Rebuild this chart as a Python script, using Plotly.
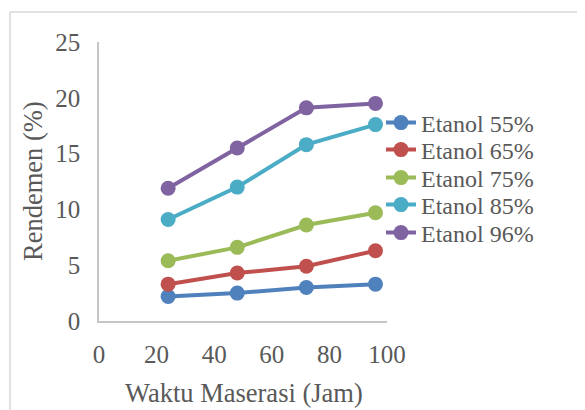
import plotly.graph_objects as go

hours = [24, 48, 72, 96]
series_names = ["Etanol 55%", "Etanol 65%", "Etanol 75%", "Etanol 85%", "Etanol 96%"]
etanol_55 = [2.2, 2.5, 3.0, 3.3]
etanol_65 = [3.3, 4.3, 4.9, 6.3]
etanol_75 = [5.4, 6.6, 8.6, 9.7]
etanol_85 = [9.1, 12.0, 15.8, 17.6]
etanol_96 = [11.9, 15.5, 19.1, 19.5]
x_ticks = [0, 20, 40, 60, 80, 100]
y_ticks = [0, 5, 10, 15, 20, 25]

colors = ["#4F81BD", "#C0504D", "#9BBB59", "#4BACC6", "#8064A2"]
values = [etanol_55, etanol_65, etanol_75, etanol_85, etanol_96]

# The page puts the figure 8px in from the top-left corner; all targets below
# are page pixels and are converted to figure pixels.
OFF = 8
W, H = 585 - OFF, 410 - OFF
L, R, T, B = 99 - OFF, 387 - OFF, 42 - OFF, 321 - OFF  # plot area (figure px)

def px(page_x):
    return (page_x - OFF - L) / (R - L)

def py(page_y):
    return (B - (page_y - OFF)) / (B - T)

FONT = "Liberation Serif"
GRAY = "#595959"
AXIS = "#C6C6C6"

legend_rows = [123, 150, 178, 205, 233]  # page y of legend rows
legend_ids = ["legend", "legend2", "legend3", "legend4", "legend5"]

fig = go.Figure()
for name, vals, c, lid in zip(series_names, values, colors, legend_ids):
    fig.add_trace(go.Scatter(
        x=hours, y=vals, name=name, mode="lines+markers",
        line=dict(color=c, width=4),
        marker=dict(color=c, size=15, symbol="circle"),
        legend=lid,
    ))

legend_style = dict(
    xanchor="left", yanchor="middle",
    font=dict(family=FONT, size=24, color=GRAY),
    bgcolor="rgba(0,0,0,0)", borderwidth=0, itemwidth=30,
)
layout_legends = {}
for lid, row in zip(legend_ids, legend_rows):
    layout_legends[lid] = dict(x=px(381), y=py(row), **legend_style)

fig.update_layout(
    width=W, height=H,
    margin=dict(l=L, r=W - R, t=T, b=H - B, pad=0),
    paper_bgcolor="white", plot_bgcolor="white",
    font=dict(family=FONT, color=GRAY, size=25),
    showlegend=True,
    xaxis=dict(
        range=[0, 100], tickvals=x_ticks, ticktext=[str(v) for v in x_ticks],
        showgrid=False, zeroline=False, showline=True, linecolor=AXIS, linewidth=1.5,
        ticks="", ticklabelstandoff=10,
        tickfont=dict(family=FONT, size=25, color=GRAY),
    ),
    yaxis=dict(
        range=[0, 25], tickvals=y_ticks, ticktext=[str(v) for v in y_ticks],
        showgrid=False, zeroline=False, showline=True, linecolor=AXIS, linewidth=1.5,
        ticks="", ticklabelstandoff=12,
        tickfont=dict(family=FONT, size=25, color=GRAY),
    ),
    annotations=[
        dict(text="Waktu Maserasi (Jam)", xref="paper", yref="paper",
             x=px(244), y=py(393), xanchor="center", yanchor="middle",
             showarrow=False, font=dict(family=FONT, size=26.5, color=GRAY)),
        dict(text="Rendemen (%)", xref="paper", yref="paper",
             x=px(33), y=py(181), xanchor="center", yanchor="middle", textangle=-90,
             showarrow=False, font=dict(family=FONT, size=26.5, color=GRAY)),
    ],
    shapes=[
        dict(type="line", xref="paper", yref="paper",
             x0=px(10), x1=px(590), y0=py(12), y1=py(12),
             line=dict(color="#D9D9D9", width=1.5)),
        dict(type="line", xref="paper", yref="paper",
             x0=px(10), x1=px(10), y0=py(12), y1=py(420),
             line=dict(color="#D9D9D9", width=1.5)),
    ],
    **layout_legends,
)

fig.write_html("out.html")
